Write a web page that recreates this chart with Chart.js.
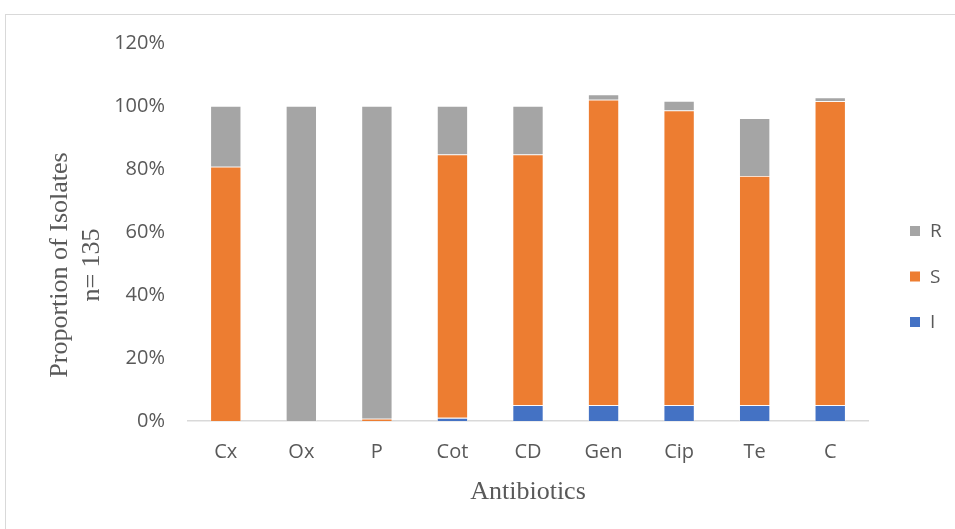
<!DOCTYPE html>
<html lang="en">
<head>
    <meta charset="UTF-8">
    <title>Antibiotic susceptibility of isolates</title>
    <script src="https://cdn.jsdelivr.net/npm/chart.js"></script>
    <style>
        html, body {
            margin: 0;
            padding: 0;
            background: #ffffff;
            overflow: hidden;
        }
        .frame {
            position: absolute;
            left: 5px;
            top: 14px;
            width: 990px;
            height: 560px;
            border: 1px solid #d9d9d9;
        }
        .chart-container {
            position: absolute;
            left: 0;
            top: 0;
            width: 955px;
            height: 529px;
        }
    </style>
</head>
<body>

<div class="frame"></div>
<div class="chart-container">
    <canvas id="susceptibilityChart"></canvas>
</div>

<script>
    // data (percent of isolates)
    const antibiotics = ['Cx', 'Ox', 'P', 'Cot', 'CD', 'Gen', 'Cip', 'Te', 'C'];
    const intermediate = [0, 0, 0, 1, 5, 5, 5, 5, 5];
    const susceptible = [80.7, 0, 0.7, 83.6, 79.6, 97, 93.6, 72.8, 96.5];
    const resistant = [19.3, 100, 99.3, 15.4, 15.4, 1.7, 3.0, 18.3, 1.2];
    const yTicks = [0, 20, 40, 60, 80, 100, 120];

    const textGray = '#595959';

    // y axis title, two lines, sits a little below the plot centre like the original
    const yTitlePlugin = {
        id: 'yTitle',
        afterDraw(chart) {
            const ctx = chart.ctx;
            const area = chart.chartArea;
            const cy = (area.top + area.bottom) / 2 + 33;
            const lines = ['Proportion of Isolates', 'n= 135'];
            ctx.save();
            ctx.fillStyle = textGray;
            ctx.font = '26px "Liberation Serif", "Times New Roman", serif';
            ctx.textAlign = 'center';
            ctx.textBaseline = 'middle';
            lines.forEach((line, i) => {
                ctx.save();
                ctx.translate(area.left - 128 + i * 32, cy);
                ctx.rotate(-Math.PI / 2);
                ctx.fillText(line, 0, 0);
                ctx.restore();
            });
            ctx.restore();
        }
    };

    // legend on the right: R, S, I top to bottom
    const sideLegendPlugin = {
        id: 'sideLegend',
        afterDraw(chart) {
            const ctx = chart.ctx;
            const sets = chart.data.datasets.slice().reverse();
            ctx.save();
            ctx.font = '19px "Open Sans", sans-serif';
            ctx.textBaseline = 'middle';
            ctx.textAlign = 'left';
            sets.forEach((ds, i) => {
                const y = 231 + i * 45.5;
                ctx.fillStyle = ds.backgroundColor;
                ctx.fillRect(910, y - 5, 10, 10);
                ctx.fillStyle = textGray;
                ctx.fillText(ds.label, 930, y + 1);
            });
            ctx.restore();
        }
    };

    const ctx = document.getElementById('susceptibilityChart').getContext('2d');
    const susceptibilityChart = new Chart(ctx, {
        type: 'bar',
        data: {
            labels: antibiotics,
            datasets: [
                { label: 'I', data: intermediate, backgroundColor: '#4472C4' },
                { label: 'S', data: susceptible, backgroundColor: '#ED7D31' },
                { label: 'R', data: resistant, backgroundColor: '#A5A5A5' }
            ]
        },
        options: {
            responsive: true,
            maintainAspectRatio: false,
            animation: false,
            layout: {
                padding: { left: 0, right: 87, top: 43, bottom: 17 }
            },
            datasets: {
                bar: {
                    categoryPercentage: 1,
                    barPercentage: 0.41,
                    borderWidth: 0.8,
                    borderColor: 'rgba(255,255,255,0.55)'
                }
            },
            plugins: {
                legend: { display: false },
                tooltip: { enabled: false }
            },
            scales: {
                x: {
                    stacked: true,
                    afterFit(scale) {
                        scale.height = 91;
                    },
                    grid: { display: false, drawTicks: false },
                    border: { display: true, color: '#d9d9d9', width: 1.5 },
                    ticks: {
                        padding: 19,
                        color: textGray,
                        font: { family: '"Open Sans", sans-serif', size: 20 }
                    },
                    title: {
                        display: true,
                        text: 'Antibiotics',
                        color: textGray,
                        font: { family: '"Liberation Serif", "Times New Roman", serif', size: 26 },
                        padding: { top: 0, bottom: 4 }
                    }
                },
                y: {
                    stacked: true,
                    min: yTicks[0],
                    max: yTicks[yTicks.length - 1],
                    afterBuildTicks(scale) {
                        scale.ticks = yTicks.map(v => ({ value: v }));
                    },
                    afterFit(scale) {
                        scale.width = 188;
                    },
                    grid: { display: false, drawTicks: false },
                    border: { display: false },
                    ticks: {
                        padding: 23,
                        color: textGray,
                        font: { family: '"Open Sans", sans-serif', size: 20 },
                        callback: v => v + '%'
                    }
                }
            }
        },
        plugins: [yTitlePlugin, sideLegendPlugin]
    });
</script>

</body>
</html>
